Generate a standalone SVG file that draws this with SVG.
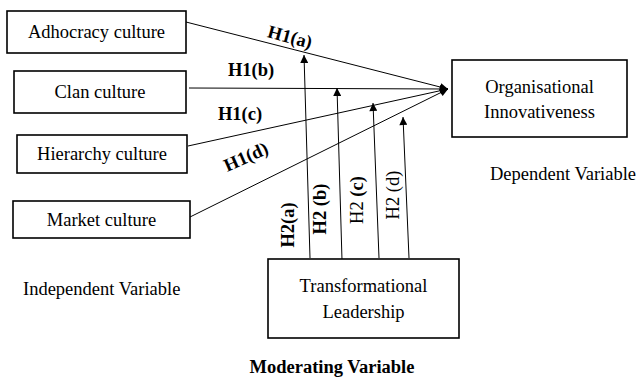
<svg xmlns="http://www.w3.org/2000/svg" width="640" height="378" viewBox="0 0 640 378">
<style>
.box{fill:#fff;stroke:#000;stroke-width:1.6}
.t{font-family:"Liberation Serif","Times New Roman",serif;font-size:18.5px;fill:#000}
.c{text-anchor:middle}
.b{font-weight:bold}
.ln{stroke:#000;stroke-width:1;fill:none}
</style>
<defs>
<marker id="ah" viewBox="0 0 10 10" refX="10" refY="5" markerWidth="9" markerHeight="8" markerUnits="userSpaceOnUse" orient="auto">
<path d="M0,0 L10,5 L0,10 Z" fill="#000"/>
</marker>
</defs>
<g id="connectors">
<line class="ln" x1="186" y1="22" x2="448" y2="89" marker-end="url(#ah)"/>
<line class="ln" x1="189" y1="88" x2="448" y2="89" marker-end="url(#ah)"/>
<line class="ln" x1="188" y1="146" x2="448" y2="89" marker-end="url(#ah)"/>
<line class="ln" x1="190" y1="217" x2="448" y2="89" marker-end="url(#ah)"/>
<line class="ln" x1="310" y1="258" x2="304" y2="55" marker-end="url(#ah)"/>
<line class="ln" x1="342" y1="260" x2="337" y2="88" marker-end="url(#ah)"/>
<line class="ln" x1="379" y1="258" x2="373" y2="103" marker-end="url(#ah)"/>
<line class="ln" x1="409" y1="258" x2="403" y2="117" marker-end="url(#ah)"/>
<text class="t b c" transform="translate(290,37) rotate(15)" y="6">H1(a)</text>
<text class="t b c" x="251" y="76">H1(b)</text>
<text class="t b c" x="240" y="120">H1(c)</text>
<text class="t b c" transform="translate(246,157) rotate(-24)" y="6">H1(d)</text>
<text class="t b c" transform="translate(288,225) rotate(-90)" y="6">H2(a)</text>
<text class="t b c" transform="translate(320,209) rotate(-90)" y="6">H2 (b)</text>
<text class="t c" transform="translate(357,200) rotate(-90)" y="6">H2 <tspan class="b">(c)</tspan></text>
<text class="t c" transform="translate(393,195) rotate(-90)" y="6">H2 (d)</text>
</g>
<g id="adhocracy">
<rect class="box" x="7" y="11" width="179" height="42"/>
<text class="t c" x="96.5" y="38">Adhocracy culture</text>
</g>
<g id="clan">
<rect class="box" x="14" y="71" width="172" height="42"/>
<text class="t c" x="100" y="98">Clan culture</text>
</g>
<g id="hierarchy">
<rect class="box" x="17" y="135" width="170" height="38"/>
<text class="t c" x="102" y="160">Hierarchy culture</text>
</g>
<g id="market">
<rect class="box" x="13" y="201" width="177" height="37"/>
<text class="t c" x="101.5" y="226">Market culture</text>
</g>
<g id="innovativeness">
<rect class="box" x="452" y="60" width="175" height="77"/>
<text class="t c" x="539.5" y="93">Organisational</text>
<text class="t c" x="539.5" y="118">Innovativeness</text>
</g>
<g id="leadership">
<rect class="box" x="268" y="259" width="191" height="79"/>
<text class="t c" x="363.5" y="292">Transformational</text>
<text class="t c" x="363.5" y="318">Leadership</text>
</g>
<text class="t" x="23" y="295">Independent Variable</text>
<text class="t" x="490" y="180">Dependent Variable</text>
<text class="t b c" x="332" y="373">Moderating Variable</text>
</svg>
